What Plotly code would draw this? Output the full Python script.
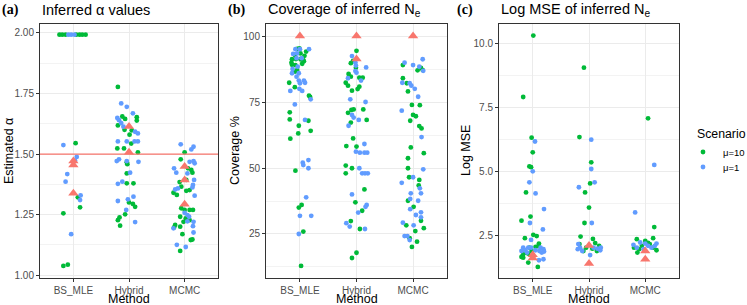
import plotly.graph_objects as go

# ---------------- data ----------------
METHODS = ["BS_MLE", "Hybrid", "MCMC"]
SCENARIOS = ["μ=10", "μ=1"]
LEGEND_TITLE = "Scenario"

# Panel (a) Inferred alpha values ; J = horizontal jitter (category units), V = value
A_BS_G_J = [-0.25, -0.20, -0.14, 0.05, 0.11, 0.16, 0.22, 0.04, 0.08, 0.12, -0.18, -0.18, -0.10]
A_BS_G_V = [1.993, 1.993, 1.993, 1.993, 1.993, 1.993, 1.993, 1.545, 1.321, 1.280, 1.255, 1.038, 1.043]
A_BS_B_J = [-0.09, -0.04, 0.02, -0.18, 0.06, 0.03, -0.11, -0.14, 0.13, 0.12, -0.04]
A_BS_B_V = [1.993, 1.993, 1.993, 1.537, 1.488, 1.472, 1.417, 1.386, 1.329, 1.310, 1.169]
A_BS_T = [1.471, 1.455, 1.338]

A_HY_G_J = [-0.20, -0.12, -0.07, 0.14, 0.14, -0.20, -0.08, 0.05, 0.01, 0.04, -0.21, -0.09, 0.16,
            -0.04, -0.03, -0.04, -0.04, 0.08, 0.00, 0.07, 0.11, -0.07, -0.17, -0.20, -0.16]
A_HY_G_V = [1.777, 1.655, 1.645, 1.652, 1.638, 1.618, 1.600, 1.598, 1.580, 1.543, 1.523, 1.523, 1.507,
            1.466, 1.458, 1.420, 1.379, 1.379, 1.300, 1.294, 1.282, 1.251, 1.238, 1.227, 1.204]
A_HY_B_J = [-0.14, -0.04, 0.07, -0.21, -0.18, -0.14, -0.10, 0.11, 0.16, -0.20, -0.04, 0.10, 0.16,
            -0.18, -0.22, -0.04, 0.17, 0.02, -0.12, -0.20, 0.08, -0.02, -0.20, -0.05, 0.11]
A_HY_B_V = [1.709, 1.695, 1.668, 1.649, 1.640, 1.628, 1.613, 1.592, 1.585, 1.552, 1.552, 1.552, 1.552,
            1.478, 1.471, 1.471, 1.468, 1.423, 1.386, 1.377, 1.324, 1.313, 1.306, 1.269, 1.219]
A_HY_T = [1.614, 1.507]

A_MC_G_J = [0.00, -0.07, 0.06, 0.12, 0.14, 0.03, -0.09, -0.06, 0.03, 0.09, -0.20, -0.14, -0.06, 0.00,
            0.09, 0.15, -0.08, 0.02, 0.09, -0.02, -0.17, -0.19, -0.08, -0.04, 0.11, 0.14, -0.08]
A_MC_G_V = [1.507, 1.478, 1.441, 1.434, 1.423, 1.393, 1.384, 1.365, 1.348, 1.351, 1.340, 1.331, 1.276, 1.269,
            1.269, 1.269, 1.241, 1.234, 1.227, 1.220, 1.207, 1.197, 1.200, 1.169, 1.145, 1.147, 1.100]
A_MC_B_J = [-0.07, 0.16, 0.12, 0.09, 0.16, 0.18, -0.19, -0.15, 0.05, 0.17, 0.15, 0.14, -0.12, -0.17,
            0.18, 0.00, 0.05, 0.08, 0.16, 0.05, -0.20, 0.15, 0.16, -0.14, 0.02]
A_MC_B_V = [1.540, 1.530, 1.519, 1.468, 1.471, 1.462, 1.441, 1.423, 1.420, 1.393, 1.372, 1.362, 1.358, 1.354,
            1.328, 1.257, 1.248, 1.241, 1.220, 1.222, 1.193, 1.202, 1.176, 1.125, 1.116]
A_MC_T = [1.448, 1.393, 1.293]
A_TRUE_ALPHA = 1.5

# Panel (b) Coverage of inferred Ne
B_BS_G_J = [-0.05, -0.01, 0.01, 0.11, 0.08, -0.09, -0.14, -0.07, 0.01, 0.06, -0.15, -0.14, -0.08, 0.04,
            0.07, -0.05, -0.09, -0.19, -0.09, 0.16, 0.18, -0.18, -0.18, 0.15, -0.02, 0.19, -0.03, -0.17,
            -0.08, 0.03, -0.02, 0.06, 0.02]
B_BS_G_V = [95.1, 95.3, 93.4, 94.1, 92.5, 92.8, 91.2, 91.3, 91.2, 90.9, 89.9, 89.1, 89.0, 89.5,
            90.4, 87.1, 86.5, 82.3, 80.6, 77.4, 76.9, 71.1, 68.4, 67.9, 66.0, 64.1, 63.1, 61.1,
            49.0, 36.0, 35.0, 25.9, 12.9]
B_BS_B_J = [-0.08, 0.00, 0.16, -0.12, -0.05, -0.06, 0.03, -0.04, -0.13, -0.14, -0.02, -0.06, -0.02, 0.07,
            0.00, 0.09, -0.17, -0.01, 0.04, 0.19, -0.09, 0.09, 0.05, 0.06, 0.15, 0.15, 0.11, 0.00, 0.20, -0.02]
B_BS_B_V = [95.0, 95.0, 95.0, 93.2, 93.4, 91.6, 91.6, 88.4, 87.5, 85.9, 85.9, 84.6, 83.1, 83.1,
            82.1, 82.3, 79.2, 80.0, 79.2, 76.0, 74.1, 68.2, 52.0, 51.1, 53.0, 49.9, 38.9, 31.9, 31.9, 25.0]
B_BS_T = [100]

B_HY_G_J = [0.00, -0.10, -0.06, -0.01, -0.14, -0.10, 0.05, 0.11, -0.19, -0.15, 0.05, 0.02, -0.08, -0.05,
            -0.09, 0.12, -0.15, 0.18, -0.10, -0.06, -0.18, 0.00, -0.19, -0.19, -0.08, 0.14, -0.02, 0.10,
            -0.10, 0.06, 0.00, -0.08]
B_HY_G_V = [94.4, 89.7, 90.6, 88.0, 85.6, 84.6, 84.2, 84.2, 82.3, 81.2, 80.8, 79.9, 79.3, 72.2,
            72.0, 72.2, 70.9, 68.2, 67.2, 61.2, 58.3, 58.1, 50.9, 48.0, 49.9, 41.9, 37.0, 33.8,
            29.9, 26.9, 17.9, 15.9]
B_HY_B_J = [-0.08, -0.02, -0.01, -0.02, 0.00, 0.17, -0.15, 0.08, -0.11, 0.16, -0.08, -0.05, 0.04, -0.14,
            0.14, -0.01, 0.06, 0.14, 0.19, 0.05, 0.10, 0.15, 0.20, -0.08, 0.18, 0.16, 0.03, -0.18, -0.12, 0.15]
B_HY_B_V = [92.4, 90.0, 88.8, 86.7, 86.1, 88.1, 84.0, 83.1, 76.0, 75.0, 70.1, 69.1, 68.2, 66.0,
            59.1, 56.2, 55.8, 55.8, 55.8, 49.9, 48.0, 48.0, 48.0, 40.0, 36.0, 35.3, 33.1, 29.1, 27.8, 26.9]
B_HY_T = [100, 91.3]

B_MC_G_J = [-0.18, 0.08, 0.14, 0.17, -0.18, -0.11, -0.09, -0.02, 0.12, 0.00, 0.05, -0.05, 0.11, 0.15,
            -0.04, 0.19, -0.09, -0.09, -0.07, 0.11, 0.10, -0.09, 0.01, 0.14, -0.12, 0.19, 0.04, 0.07,
            -0.06, -0.02]
B_MC_G_V = [89.0, 87.0, 87.9, 87.1, 84.0, 82.1, 79.0, 73.9, 73.8, 70.1, 69.6, 67.9, 65.9, 65.0,
            57.8, 55.6, 53.7, 49.9, 46.5, 45.5, 43.4, 37.6, 35.3, 30.0, 28.3, 27.2, 26.1, 22.1,
            23.4, 20.1]
B_MC_B_J = [-0.15, 0.00, 0.17, 0.11, 0.18, -0.19, -0.06, -0.03, 0.03, 0.09, -0.20, 0.15, 0.18, 0.00,
            -0.20, 0.12, -0.04, 0.14, -0.05, 0.09, -0.05, 0.14, 0.05, 0.14, -0.18, 0.01, -0.15, -0.10, -0.06]
B_MC_B_V = [89.9, 89.0, 91.2, 88.4, 86.8, 82.3, 82.1, 81.2, 80.0, 77.0, 71.7, 61.7, 49.5, 46.5,
            44.4, 42.3, 40.4, 40.4, 38.3, 37.6, 34.4, 33.2, 32.2, 31.3, 29.3, 28.3, 24.2, 24.2, 22.7]
B_MC_T = [100]

# Panel (c) Log MSE of inferred Ne
C_BS_G_J = [0.01, -0.17, -0.02, 0.00, -0.06, -0.03, -0.12, -0.04, -0.20, 0.01, 0.07, -0.14, 0.11, -0.06,
            0.05, -0.17, -0.20, -0.08, -0.02, -0.17, 0.10, -0.08, 0.09, -0.12]
C_BS_G_V = [10.29, 7.90, 6.32, 5.75, 5.20, 5.17, 4.19, 3.25, 3.09, 2.54, 2.49, 2.41, 2.20, 2.04,
            2.07, 1.78, 1.68, 1.81, 1.91, 1.65, 2.10, 1.46, 1.29, 1.85]
C_BS_B_J = [0.04, 0.00, -0.06, 0.05, 0.20, -0.05, 0.18, -0.03, -0.17, -0.14, -0.20, -0.08, 0.14, 0.19,
            0.20, 0.16, 0.12, 0.05, -0.10, -0.03, 0.11, 0.19]
C_BS_B_V = [6.17, 5.01, 4.58, 4.15, 3.54, 3.00, 2.75, 2.34, 2.04, 1.94, 1.91, 2.04, 2.04, 1.98,
            1.89, 1.85, 1.91, 1.94, 1.85, 2.04, 1.55, 1.59]
C_BS_T = [1.76, 1.64]

C_HY_G_J = [-0.09, -0.17, 0.04, 0.02, -0.07, 0.00, -0.08, -0.15, 0.07, -0.17, 0.11, 0.18, 0.06, -0.10,
            0.14, -0.05]
C_HY_G_V = [9.04, 6.34, 5.36, 4.54, 4.19, 3.60, 3.00, 2.47, 2.38, 2.18, 2.22, 2.11, 2.00, 1.91,
            1.91, 2.04]
C_HY_B_J = [0.04, 0.04, 0.10, -0.18, 0.05, -0.19, 0.02, -0.16, -0.20, -0.12, 0.08, 0.15, 0.21, 0.20]
C_HY_B_V = [6.24, 5.10, 4.58, 4.39, 3.00, 2.18, 1.75, 2.04, 1.98, 1.91, 2.04, 2.00, 2.04, 1.94]
C_HY_T = [2.12, 1.42]

C_MC_G_J = [0.05, 0.16, -0.15, 0.14, 0.00, 0.05, -0.14, 0.20, -0.20, -0.06, 0.08, 0.14, -0.11]
C_MC_G_V = [7.07, 2.84, 2.37, 2.41, 2.30, 2.23, 1.85, 1.94, 2.04, 2.11, 2.18, 2.04, 1.98]
C_MC_B_J = [0.16, -0.18, -0.09, 0.00, 0.05, 0.11, 0.17, -0.15, -0.03, -0.21, 0.20]
C_MC_B_V = [5.26, 3.41, 2.24, 2.20, 2.11, 2.04, 2.11, 2.04, 1.98, 2.15, 2.20]
C_MC_T = [1.91, 1.59]

A_TICKS = [1.00, 1.25, 1.50, 1.75, 2.00]
A_TICKTEXT = ["1.00", "1.25", "1.50", "1.75", "2.00"]
B_TICKS = [25, 50, 75, 100]
B_TICKTEXT = ["25", "50", "75", "100"]
C_TICKS = [2.5, 5.0, 7.5, 10.0]
C_TICKTEXT = ["2.5", "5.0", "7.5", "10.0"]

# ---------------- styling ----------------
W, H = 747, 305
GREEN, BLUE, RED = "#00BA38", "#619CFF", "#F8766D"
FONT = "Liberation Sans, Arial, Helvetica, sans-serif"
SERIF = "Liberation Serif, Times New Roman, serif"


def fx(p):
    return p / W


def fy(p):
    return 1 - p / H


fig = go.Figure()

panels = [
    ("x", "y", [(A_BS_G_J, A_BS_G_V, A_BS_B_J, A_BS_B_V, A_BS_T),
                (A_HY_G_J, A_HY_G_V, A_HY_B_J, A_HY_B_V, A_HY_T),
                (A_MC_G_J, A_MC_G_V, A_MC_B_J, A_MC_B_V, A_MC_T)]),
    ("x2", "y2", [(B_BS_G_J, B_BS_G_V, B_BS_B_J, B_BS_B_V, B_BS_T),
                  (B_HY_G_J, B_HY_G_V, B_HY_B_J, B_HY_B_V, B_HY_T),
                  (B_MC_G_J, B_MC_G_V, B_MC_B_J, B_MC_B_V, B_MC_T)]),
    ("x3", "y3", [(C_BS_G_J, C_BS_G_V, C_BS_B_J, C_BS_B_V, C_BS_T),
                  (C_HY_G_J, C_HY_G_V, C_HY_B_J, C_HY_B_V, C_HY_T),
                  (C_MC_G_J, C_MC_G_V, C_MC_B_J, C_MC_B_V, C_MC_T)]),
]

legend_done = {SCENARIOS[0]: False, SCENARIOS[1]: False}
legend_ref = {SCENARIOS[0]: "legend", SCENARIOS[1]: "legend2"}
for xa, ya, groups in panels:
    # green (mu=10) first, then blue (mu=1)
    for si, (scen, col) in enumerate([(SCENARIOS[0], GREEN), (SCENARIOS[1], BLUE)]):
        xs, ys = [], []
        for mi, g in enumerate(groups):
            jit, val = (g[0], g[1]) if si == 0 else (g[2], g[3])
            xs += [mi + 1 + j for j in jit]
            ys += list(val)
        fig.add_trace(go.Scatter(
            x=xs, y=ys, mode="markers", xaxis=xa, yaxis=ya,
            marker=dict(color=col, size=4.8, line=dict(width=0)),
            name=scen, legendgroup=scen, legend=legend_ref[scen],
            showlegend=not legend_done[scen], hoverinfo="skip"))
        legend_done[scen] = True
    tx, ty = [], []
    for mi, g in enumerate(groups):
        tx += [mi + 1] * len(g[4])
        ty += list(g[4])
    fig.add_trace(go.Scatter(
        x=tx, y=ty, mode="markers", xaxis=xa, yaxis=ya,
        marker=dict(color=RED, symbol="triangle-up", size=9, line=dict(width=0)),
        showlegend=False, hoverinfo="skip"))

# true alpha line
fig.add_shape(type="line", xref="x domain", yref="y", x0=0, x1=1,
              y0=A_TRUE_ALPHA, y1=A_TRUE_ALPHA, line=dict(color=RED, width=1.2))

xdom = [(40, 218), (266, 447), (499, 679)]
ydom = [fy(278), fy(24)]
yranges = [[0.988, 2.037], [8.33, 104.55], [0.86, 10.74]]
yticks = [(A_TICKS, A_TICKTEXT, 0.125, 1.0), (B_TICKS, B_TICKTEXT, 12.5, 0),
          (C_TICKS, C_TICKTEXT, 1.25, 0)]

common = dict(showline=True, mirror=True, linecolor="#333333", linewidth=1,
              ticks="outside", ticklen=3, tickcolor="#333333", tickwidth=1,
              gridcolor="#EBEBEB", gridwidth=1, zeroline=False,
              tickfont=dict(family=FONT, size=10, color="#4D4D4D"))

layout = {}
for i in range(3):
    sfx = "" if i == 0 else str(i + 1)
    layout["xaxis" + sfx] = dict(
        common, domain=[fx(xdom[i][0]), fx(xdom[i][1])], range=[0.4, 3.6],
        tickmode="array", tickvals=[1, 2, 3], ticktext=METHODS,
        anchor="y" + sfx, fixedrange=True)
    tv, tt, mdt, m0 = yticks[i]
    layout["yaxis" + sfx] = dict(
        common, domain=ydom, range=yranges[i], tickmode="array",
        tickvals=tv, ticktext=tt, anchor="x" + sfx,
        minor=dict(showgrid=True, gridcolor="#F3F3F3", gridwidth=0.6,
                   dtick=mdt, tick0=m0, ticks=""))

ann = []


def text(x, y, s, size, xanchor="left", angle=0, family=FONT, color="black"):
    ann.append(dict(x=fx(x), y=fy(y), xref="paper", yref="paper", text=s, showarrow=False,
                    xanchor=xanchor, yanchor="middle", textangle=angle,
                    font=dict(family=family, size=size, color=color)))


text(0, 10, "<b>(a)</b>", 14, family=SERIF)
text(40, 10, "Inferred α values", 14.5)
text(226, 10, "<b>(b)</b>", 14, family=SERIF)
text(266, 10, "Coverage of inferred N<sub>e</sub>", 14.5)
text(455, 10, "<b>(c)</b>", 14, family=SERIF)
text(499, 10, "Log MSE of inferred N<sub>e</sub>", 14.5)
for (a, b) in xdom:
    text((a + b) / 2, 298.5, "Method", 12.5, xanchor="center")
text(9, 151, "Estimated α", 12.5, xanchor="center", angle=-90)
text(235, 151, "Coverage %", 12.5, xanchor="center", angle=-90)
text(466, 151, "Log MSE", 12.5, xanchor="center", angle=-90)
text(695, 134, LEGEND_TITLE, 12.3)

leg_common = dict(xanchor="left", yanchor="middle", font=dict(size=9.5, family=FONT),
                  bgcolor="rgba(0,0,0,0)", itemwidth=30, borderwidth=0)

fig.update_layout(
    width=W, height=H, autosize=False, margin=dict(l=0, r=0, t=0, b=0, autoexpand=False),
    paper_bgcolor="white", plot_bgcolor="white",
    font=dict(family=FONT, color="black"),
    annotations=ann,
    legend=dict(leg_common, x=fx(683), y=fy(152)),
    legend2=dict(leg_common, x=fx(683), y=fy(167)),
    **layout)

fig.write_html("out.html", config={"displayModeBar": False, "responsive": False},
               post_script="document.body.style.margin='0px';document.body.style.overflow='hidden';")
